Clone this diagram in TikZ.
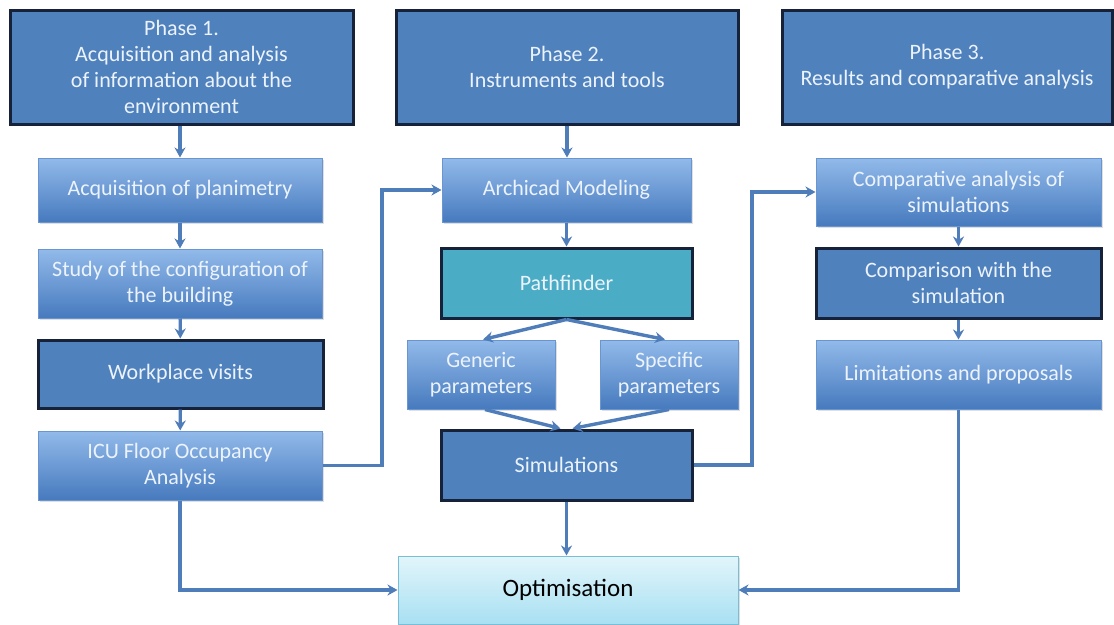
\documentclass[tikz,border=0pt]{standalone}
\usepackage{fontspec}
\setmainfont{Carlito}
\usetikzlibrary{arrows.meta,calc,shadows}
\definecolor{phasefill}{RGB}{79,129,189}
\definecolor{darkedge}{RGB}{22,34,58}
\definecolor{lighttop}{RGB}{146,186,234}
\definecolor{lightbot}{RGB}{70,122,190}
\definecolor{lightedge}{RGB}{105,150,208}
\definecolor{teal}{RGB}{75,172,198}
\definecolor{opttop}{RGB}{226,245,251}
\definecolor{optbot}{RGB}{168,224,242}
\definecolor{optedge}{RGB}{120,190,215}
\definecolor{arrowc}{RGB}{79,125,185}
\definecolor{txt}{RGB}{236,243,252}
\tikzset{
  base/.style={rectangle, align=center, text=txt, inner sep=2pt,
    font=\fontsize{22}{26}\selectfont,
    drop shadow={opacity=0.25, shadow xshift=1.5pt, shadow yshift=-2pt}},
  phasebox/.style={base, fill=phasefill, draw=darkedge, line width=3pt},
  darkbox/.style={base, fill=phasefill, draw=darkedge, line width=3pt},
  lightbox/.style={base, top color=lighttop, bottom color=lightbot, draw=lightedge, line width=1pt},
  tealbox/.style={base, fill=teal, draw=darkedge, line width=3pt},
  optbox/.style={base, top color=opttop, bottom color=optbot, draw=optedge, line width=1pt, text=black,
    font=\fontsize{25}{28}\selectfont},
  conn/.style={draw=arrowc, line width=3.4pt, -{Stealth[length=10pt,width=11pt]}},
}
\begin{document}
\begin{tikzpicture}[x=1pt,y=-1pt]
\useasboundingbox (0,0) rectangle (1114,624);
\fill[white] (0,0) rectangle (1114,624);
% Phase boxes
\node[phasebox, minimum width=343pt, minimum height=114pt] (p1) at (181.5,67) {Phase 1.\\Acquisition and analysis\\of information about the\\environment};
\node[phasebox, minimum width=342pt, minimum height=114pt] (p2) at (567,67) {Phase 2.\\Instruments and tools};
\node[phasebox, minimum width=330pt, minimum height=114pt] (p3) at (947,67) {Phase 3.\\Results and comparative analysis};
% Column 1
\node[lightbox, minimum width=284pt, minimum height=64pt] (acq) at (180,190) {Acquisition of planimetry};
\node[lightbox, minimum width=284pt, minimum height=69pt] (study) at (180,283.5) {Study of the configuration of\\the building};
\node[darkbox, minimum width=285pt, minimum height=68pt] (work) at (180.5,374) {Workplace visits};
\node[lightbox, minimum width=284pt, minimum height=69pt] (icu) at (180,465.5) {ICU Floor Occupancy\\Analysis};
% Column 2
\node[lightbox, minimum width=249pt, minimum height=64pt] (arch) at (566.5,190) {Archicad Modeling};
\node[tealbox, minimum width=251pt, minimum height=70pt] (path) at (566.5,283) {Pathfinder};
\node[lightbox, minimum width=148pt, minimum height=69pt] (gen) at (481,374.5) {Generic\\parameters};
\node[lightbox, minimum width=138pt, minimum height=69pt] (spec) at (669,374.5) {Specific\\parameters};
\node[darkbox, minimum width=251pt, minimum height=70pt] (sim) at (566.5,465) {Simulations};
% Column 3
\node[lightbox, minimum width=285pt, minimum height=68pt] (comp) at (958.5,192) {Comparative analysis of\\simulations};
\node[darkbox, minimum width=285pt, minimum height=70pt] (cmpw) at (958.5,283) {Comparison with the\\simulation};
\node[lightbox, minimum width=285pt, minimum height=69pt] (lim) at (958.5,374.5) {Limitations and proposals};
% Optimisation
\node[optbox, minimum width=340pt, minimum height=68pt] (opt) at (568,590) {Optimisation};
% Connectors
\draw[conn] (p1.south -| acq.north) -- (acq.north);
\draw[conn] (acq) -- (study);
\draw[conn] (study) -- (work);
\draw[conn] (work) -- (icu);
\draw[conn] (icu.east) -- (382,465.5) |- (arch.west);
\draw[conn] (p2.south) -- (p2.south |- arch.north);
\draw[conn] (arch) -- (path);
\draw[conn] (path.south) -- ($(gen.north)+(2,0)$);
\draw[conn] (path.south) -- ($(spec.north)+(-4,0)$);
\draw[conn] ($(gen.south)+(4,0)$) -- ($(sim.north)+(-6,0)$);
\draw[conn] ($(spec.south)+(0,0)$) -- ($(sim.north)+(6,0)$);
\draw[conn] (sim.east) -- (752,465) |- (comp.west);
\draw[conn] (comp) -- (cmpw);
\draw[conn] (cmpw) -- (lim);
\draw[conn] (lim.south) |- (opt.east);
\draw[conn] (icu.south) |- (opt.west);
\draw[conn] (sim.south) -- (sim.south |- opt.north);
\end{tikzpicture}
\end{document}
